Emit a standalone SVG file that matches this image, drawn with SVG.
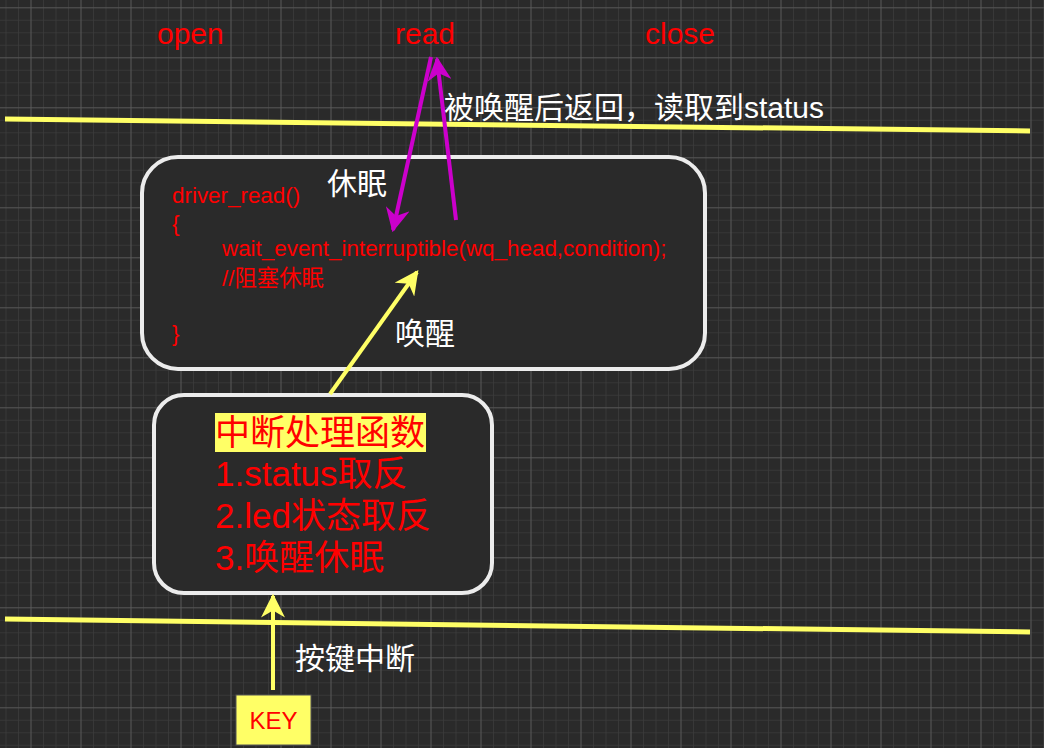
<svg xmlns="http://www.w3.org/2000/svg" width="1044" height="748" viewBox="0 0 1044 748">
<defs>
<pattern id="minor" x="30.5" y="7.3" width="12.5" height="12.5" patternUnits="userSpaceOnUse">
<path d="M0 0H12.5M0 0V12.5" stroke="#3c3c3c" stroke-width="1.5" fill="none"/>
</pattern>
<pattern id="major" x="30.5" y="7.3" width="50" height="50" patternUnits="userSpaceOnUse">
<path d="M0 0H50M0 0V50" stroke="#5e5e5e" stroke-width="1.5" fill="none"/>
</pattern>
<marker id="mag" viewBox="0 0 10 10" refX="9" refY="5" markerWidth="6" markerHeight="6" orient="auto" markerUnits="strokeWidth">
<path d="M0 0L10 5L0 10L3 5Z" fill="#cc00cc"/>
</marker>
<marker id="yel" viewBox="0 0 10 10" refX="9" refY="5" markerWidth="6" markerHeight="6" orient="auto" markerUnits="strokeWidth">
<path d="M0 0L10 5L0 10L3 5Z" fill="#ffff66"/>
</marker>
</defs>
<style>
.t{font-family:"Liberation Sans","Noto Sans CJK SC",sans-serif}
.w{fill:#ffffff;font-size:30px}
.r{fill:#ff0000}
.box{fill:#2a2a2a;stroke:#ececec;stroke-width:4}
.ybar{stroke:#ffff66;stroke-width:5;fill:none}
.mag{stroke:#cc00cc;stroke-width:4;fill:none;marker-end:url(#mag)}
.ya{stroke:#ffff66;stroke-width:4;fill:none;marker-end:url(#yel)}
</style>
<rect width="1044" height="748" fill="#2a2a2a"/>
<rect width="1044" height="748" fill="url(#minor)"/>
<rect width="1044" height="748" fill="url(#major)"/>

<g id="lanes">
<line class="ybar" x1="5" y1="119" x2="1030" y2="131"/>
<line class="ybar" x1="5" y1="619" x2="1030" y2="632"/>
</g>

<g id="syscalls" class="t r" font-size="30">
<text x="157" y="44">open</text>
<text x="395" y="44">read</text>
<text x="645" y="44">close</text>
</g>

<g id="driver_read">
<rect class="box" x="142" y="157" width="563" height="212" rx="36"/>
<g class="t r" font-size="22.4">
<text x="172" y="203">driver_read()</text>
<text x="172" y="231">{</text>
<text x="222" y="256">wait_event_interruptible(wq_head,condition);</text>
<text x="222" y="286">//阻塞休眠</text>
<text x="172" y="341">}</text>
</g>
</g>

<g id="isr">
<rect class="box" x="154" y="395" width="338" height="198" rx="30"/>
<rect x="215" y="413" width="211" height="39" fill="#ffff66"/>
<g class="t r" font-size="35">
<text x="215" y="445">中断处理函数</text>
<text x="215" y="486">1.status取反</text>
<text x="215" y="528">2.led状态取反</text>
<text x="215" y="570">3.唤醒休眠</text>
</g>
</g>

<g id="key">
<rect x="236" y="695" width="75" height="50" fill="#ffff66" stroke="#555" stroke-width="1"/>
<text class="t r" x="273.5" y="729" font-size="24" text-anchor="middle">KEY</text>
</g>

<g id="connectors">
<line class="mag" x1="431" y1="57" x2="393" y2="230"/>
<line class="mag" x1="456" y1="220" x2="437" y2="59"/>
<line class="ya" x1="330" y1="394" x2="417" y2="272"/>
<line class="ya" x1="273" y1="690" x2="273" y2="596"/>
</g>

<g id="labels" class="t w">
<text x="444" y="118">被唤醒后返回，读取到status</text>
<text x="327" y="194">休眠</text>
<text x="395" y="344">唤醒</text>
<text x="295" y="669">按键中断</text>
</g>
</svg>
